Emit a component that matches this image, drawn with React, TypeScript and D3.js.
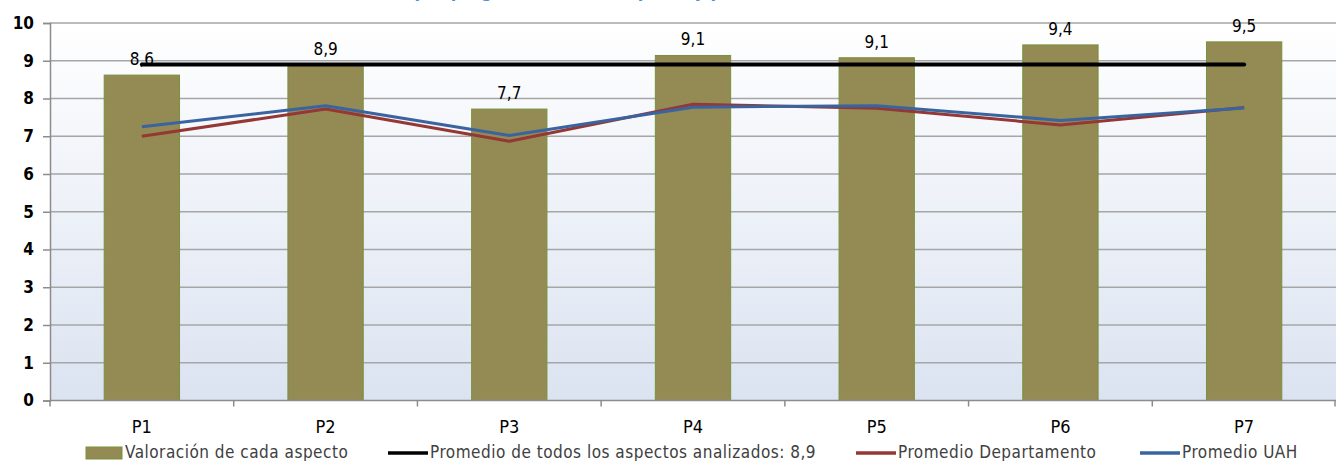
import React, { useEffect, useRef } from 'react';
import * as d3 from 'd3';

const categories = ['P1', 'P2', 'P3', 'P4', 'P5', 'P6', 'P7'];
const valoracion = [8.62, 8.88, 7.72, 9.14, 9.08, 9.42, 9.5];
const valoracionLabels = ['8,6', '8,9', '7,7', '9,1', '9,1', '9,4', '9,5'];
const promedioTodos = 8.9;
const promedioDepartamento = [7.0, 7.72, 6.87, 7.85, 7.74, 7.3, 7.76];
const promedioUAH = [7.25, 7.81, 7.02, 7.77, 7.81, 7.42, 7.75];
const yTicks = [0, 1, 2, 3, 4, 5, 6, 7, 8, 9, 10];

const legendItems = [
  { label: 'Valoración de cada aspecto', kind: 'bar', color: '#948a54' },
  { label: 'Promedio de todos los aspectos analizados: 8,9', kind: 'line', color: '#000000' },
  { label: 'Promedio Departamento', kind: 'line', color: '#953735' },
  { label: 'Promedio UAH', kind: 'line', color: '#3a64a0' },
];

const FONT = '"DejaVu Sans Condensed", "DejaVu Sans", sans-serif';

export default function App() {
  const svgRef = useRef<SVGSVGElement>(null);
  const width = 1336;
  const height = 461;

  useEffect(() => {
    document.body.style.margin = '0';
    if (!svgRef.current) return;
    const svg = d3.select(svgRef.current);
    svg.selectAll('*').remove();

    const margin = { top: 23, right: 0, bottom: 60, left: 50 };
    const x = d3.scaleBand().domain(categories).range([margin.left, width - margin.right]);
    const y = d3.scaleLinear().domain([0, 10]).range([400.5, margin.top]);

    // background gradient
    const defs = svg.append('defs');
    const grad = defs.append('linearGradient')
      .attr('id', 'bg').attr('x1', 0).attr('y1', 0).attr('x2', 0).attr('y2', 1);
    grad.append('stop').attr('offset', '0%').attr('stop-color', '#ffffff');
    grad.append('stop').attr('offset', '100%').attr('stop-color', '#dbe3f1');

    svg.append('rect')
      .attr('x', margin.left).attr('y', y(10))
      .attr('width', width - margin.left - margin.right)
      .attr('height', y(0) - y(10))
      .attr('fill', 'url(#bg)');

    // title, mostly above the top edge as in the reference
    svg.append('text')
      .attr('x', 560).attr('y', -3.5)
      .attr('text-anchor', 'middle')
      .attr('fill', '#4a90d9')
      .style('font-family', FONT)
      .style('font-size', '18px')
      .style('font-weight', 'bold')
      .text('Valoración por pregunta de cada aspecto y promedios');

    // grid lines
    svg.append('g')
      .selectAll('line')
      .data(yTicks.filter(t => t > 0))
      .enter()
      .append('line')
      .attr('x1', margin.left).attr('x2', width)
      .attr('y1', d => y(d)).attr('y2', d => y(d))
      .attr('stroke', '#a6a6a6')
      .attr('stroke-width', 1.5);

    // y axis
    const yAxis = svg.append('g')
      .attr('transform', `translate(${margin.left},0)`)
      .call(d3.axisLeft(y).tickValues(yTicks).tickSize(7).tickPadding(9).tickFormat(d3.format('d')));
    yAxis.select('.domain').attr('stroke', '#8c8c8c').attr('stroke-width', 1.5);
    yAxis.selectAll('.tick line').attr('stroke', '#8c8c8c').attr('stroke-width', 1.5);
    yAxis.selectAll('.tick text')
      .style('font-family', FONT)
      .style('font-size', '17px')
      .style('font-weight', 'bold')
      .attr('fill', '#000');

    // bars
    const barW = x.bandwidth() * 0.41;
    svg.append('g')
      .selectAll('rect')
      .data(valoracion)
      .enter()
      .append('rect')
      .attr('x', (d, i) => (x(categories[i]) as number) + x.bandwidth() / 2 - barW / 2)
      .attr('y', d => y(d))
      .attr('width', barW)
      .attr('height', d => y(0) - y(d))
      .attr('fill', '#948a54')
      .attr('stroke', '#77933c')
      .attr('stroke-width', 1);

    // x axis
    const xAxisY = y(0);
    const xg = svg.append('g');
    xg.append('line')
      .attr('x1', margin.left).attr('x2', width)
      .attr('y1', xAxisY).attr('y2', xAxisY)
      .attr('stroke', '#8c8c8c').attr('stroke-width', 1.5);
    const boundaries = categories.map(c => x(c) as number).concat([width - 1]);
    xg.selectAll('line.tick')
      .data(boundaries)
      .enter()
      .append('line')
      .attr('class', 'tick')
      .attr('x1', d => d).attr('x2', d => d)
      .attr('y1', xAxisY).attr('y2', xAxisY + 6)
      .attr('stroke', '#8c8c8c').attr('stroke-width', 1.5);
    xg.selectAll('text')
      .data(categories)
      .enter()
      .append('text')
      .attr('x', d => (x(d) as number) + x.bandwidth() / 2)
      .attr('y', 433)
      .attr('text-anchor', 'middle')
      .style('font-family', FONT)
      .style('font-size', '18px')
      .attr('fill', '#000')
      .text(d => d);

    const cx = (i: number) => (x(categories[i]) as number) + x.bandwidth() / 2;

    // average line
    svg.append('line')
      .attr('x1', cx(0)).attr('x2', cx(categories.length - 1))
      .attr('y1', y(promedioTodos)).attr('y2', y(promedioTodos))
      .attr('stroke', '#000')
      .attr('stroke-width', 4)
      .attr('stroke-linecap', 'round');

    const line = d3.line<number>().x((d, i) => cx(i)).y(d => y(d));

    svg.append('path')
      .datum(promedioDepartamento)
      .attr('d', line)
      .attr('fill', 'none')
      .attr('stroke', '#953735')
      .attr('stroke-width', 3)
      .attr('stroke-linejoin', 'round');

    svg.append('path')
      .datum(promedioUAH)
      .attr('d', line)
      .attr('fill', 'none')
      .attr('stroke', '#3a64a0')
      .attr('stroke-width', 3)
      .attr('stroke-linejoin', 'round');

    // data labels
    svg.append('g')
      .selectAll('text')
      .data(valoracion)
      .enter()
      .append('text')
      .attr('x', (d, i) => cx(i))
      .attr('y', d => y(d) - 10)
      .attr('text-anchor', 'middle')
      .style('font-family', FONT)
      .style('font-size', '17px')
      .attr('fill', '#000')
      .text((d, i) => valoracionLabels[i]);

    // legend
    const legendX = [86, 388, 856, 1140];
    const lg = svg.append('g');
    legendItems.forEach((item, i) => {
      const g = lg.append('g').attr('transform', `translate(${legendX[i]},0)`);
      if (item.kind === 'bar') {
        g.append('rect')
          .attr('x', 0).attr('y', 447).attr('width', 36).attr('height', 12)
          .attr('fill', item.color).attr('stroke', '#77933c');
      } else {
        g.append('line')
          .attr('x1', 0).attr('x2', 40).attr('y1', 453).attr('y2', 453)
          .attr('stroke', item.color).attr('stroke-width', 3.5);
      }
      g.append('text')
        .attr('x', item.kind === 'bar' ? 39 : 42)
        .attr('y', 458)
        .style('font-family', FONT)
        .style('font-size', '17px')
        .style('letter-spacing', '0.5px')
        .attr('fill', '#404040')
        .text(item.label);
    });
  }, []);

  return <svg ref={svgRef} width={width} height={height} style={{ display: 'block' }} />;
}
